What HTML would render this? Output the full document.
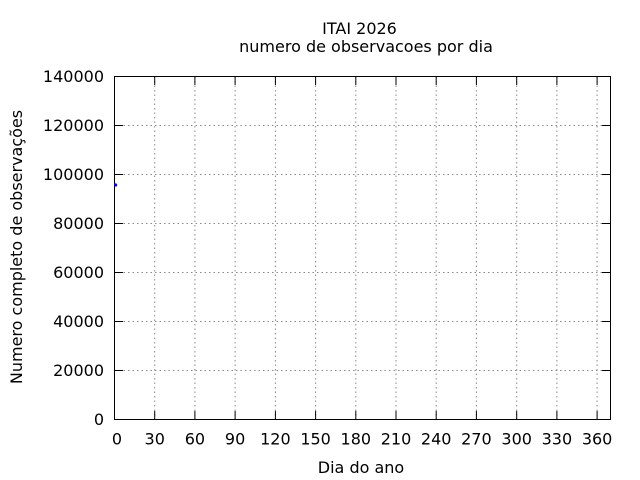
<!DOCTYPE html>
<html>
<head>
<meta charset="utf-8">
<style>
html,body{margin:0;padding:0;background:#fff;}
svg{display:block;}
text{font-family:"DejaVu Sans","Liberation Sans",sans-serif;font-size:16px;fill:#000;}
</style>
</head>
<body>
<svg width="640" height="480" viewBox="0 0 640 480" xmlns="http://www.w3.org/2000/svg">
<rect x="0" y="0" width="640" height="480" fill="#fff"/>
<!-- grid -->
<g stroke="#8a8a8a" stroke-width="1" stroke-dasharray="1.5,3" fill="none">
  <line x1="114.5" y1="370.5" x2="610.5" y2="370.5"/>
  <line x1="114.5" y1="321.5" x2="610.5" y2="321.5"/>
  <line x1="114.5" y1="272.5" x2="610.5" y2="272.5"/>
  <line x1="114.5" y1="223.5" x2="610.5" y2="223.5"/>
  <line x1="114.5" y1="174.5" x2="610.5" y2="174.5"/>
  <line x1="114.5" y1="125.5" x2="610.5" y2="125.5"/>
  <line x1="154.7" y1="76.5" x2="154.7" y2="419.5"/>
  <line x1="194.9" y1="76.5" x2="194.9" y2="419.5"/>
  <line x1="235.1" y1="76.5" x2="235.1" y2="419.5"/>
  <line x1="275.4" y1="76.5" x2="275.4" y2="419.5"/>
  <line x1="315.6" y1="76.5" x2="315.6" y2="419.5"/>
  <line x1="355.8" y1="76.5" x2="355.8" y2="419.5"/>
  <line x1="396.0" y1="76.5" x2="396.0" y2="419.5"/>
  <line x1="436.2" y1="76.5" x2="436.2" y2="419.5"/>
  <line x1="476.4" y1="76.5" x2="476.4" y2="419.5"/>
  <line x1="516.7" y1="76.5" x2="516.7" y2="419.5"/>
  <line x1="556.9" y1="76.5" x2="556.9" y2="419.5"/>
  <line x1="597.1" y1="76.5" x2="597.1" y2="419.5"/>
</g>
<!-- ticks -->
<g stroke="#000" stroke-width="1">
  <!-- y ticks left/right -->
  <line x1="114.5" y1="370.5" x2="123" y2="370.5"/><line x1="602" y1="370.5" x2="610.5" y2="370.5"/>
  <line x1="114.5" y1="321.5" x2="123" y2="321.5"/><line x1="602" y1="321.5" x2="610.5" y2="321.5"/>
  <line x1="114.5" y1="272.5" x2="123" y2="272.5"/><line x1="602" y1="272.5" x2="610.5" y2="272.5"/>
  <line x1="114.5" y1="223.5" x2="123" y2="223.5"/><line x1="602" y1="223.5" x2="610.5" y2="223.5"/>
  <line x1="114.5" y1="174.5" x2="123" y2="174.5"/><line x1="602" y1="174.5" x2="610.5" y2="174.5"/>
  <line x1="114.5" y1="125.5" x2="123" y2="125.5"/><line x1="602" y1="125.5" x2="610.5" y2="125.5"/>
  <!-- x ticks bottom/top -->
  <line x1="154.7" y1="419.5" x2="154.7" y2="411"/><line x1="154.7" y1="76.5" x2="154.7" y2="85"/>
  <line x1="194.9" y1="419.5" x2="194.9" y2="411"/><line x1="194.9" y1="76.5" x2="194.9" y2="85"/>
  <line x1="235.1" y1="419.5" x2="235.1" y2="411"/><line x1="235.1" y1="76.5" x2="235.1" y2="85"/>
  <line x1="275.4" y1="419.5" x2="275.4" y2="411"/><line x1="275.4" y1="76.5" x2="275.4" y2="85"/>
  <line x1="315.6" y1="419.5" x2="315.6" y2="411"/><line x1="315.6" y1="76.5" x2="315.6" y2="85"/>
  <line x1="355.8" y1="419.5" x2="355.8" y2="411"/><line x1="355.8" y1="76.5" x2="355.8" y2="85"/>
  <line x1="396.0" y1="419.5" x2="396.0" y2="411"/><line x1="396.0" y1="76.5" x2="396.0" y2="85"/>
  <line x1="436.2" y1="419.5" x2="436.2" y2="411"/><line x1="436.2" y1="76.5" x2="436.2" y2="85"/>
  <line x1="476.4" y1="419.5" x2="476.4" y2="411"/><line x1="476.4" y1="76.5" x2="476.4" y2="85"/>
  <line x1="516.7" y1="419.5" x2="516.7" y2="411"/><line x1="516.7" y1="76.5" x2="516.7" y2="85"/>
  <line x1="556.9" y1="419.5" x2="556.9" y2="411"/><line x1="556.9" y1="76.5" x2="556.9" y2="85"/>
  <line x1="597.1" y1="419.5" x2="597.1" y2="411"/><line x1="597.1" y1="76.5" x2="597.1" y2="85"/>
</g>
<!-- border -->
<rect x="114.5" y="76.5" width="496" height="343" fill="none" stroke="#000" stroke-width="1"/>
<!-- data -->
<circle cx="115.6" cy="185" r="1.6" fill="#0000ff"/>
<!-- y tick labels -->
<g text-anchor="end">
  <text x="104" y="425">0</text>
  <text x="104" y="376">20000</text>
  <text x="104" y="327">40000</text>
  <text x="104" y="278">60000</text>
  <text x="104" y="229">80000</text>
  <text x="104" y="180">100000</text>
  <text x="104" y="131">120000</text>
  <text x="104" y="82">140000</text>
</g>
<!-- x tick labels -->
<g text-anchor="middle">
  <text x="117" y="444.5">0</text>
  <text x="154.7" y="444.5">30</text>
  <text x="194.9" y="444.5">60</text>
  <text x="235.1" y="444.5">90</text>
  <text x="275.4" y="444.5">120</text>
  <text x="315.6" y="444.5">150</text>
  <text x="355.8" y="444.5">180</text>
  <text x="396.0" y="444.5">210</text>
  <text x="436.2" y="444.5">240</text>
  <text x="476.4" y="444.5">270</text>
  <text x="516.7" y="444.5">300</text>
  <text x="556.9" y="444.5">330</text>
  <text x="597.1" y="444.5">360</text>
</g>
<!-- axis labels -->
<text x="361" y="473" text-anchor="middle">Dia do ano</text>
<text x="0" y="0" text-anchor="middle" transform="translate(22,247) rotate(-90)">Numero completo de observações</text>
<!-- title -->
<text x="359.5" y="34" text-anchor="middle">ITAI 2026</text>
<text x="366" y="52" text-anchor="middle">numero de observacoes por dia</text>
</svg>
</body>
</html>
